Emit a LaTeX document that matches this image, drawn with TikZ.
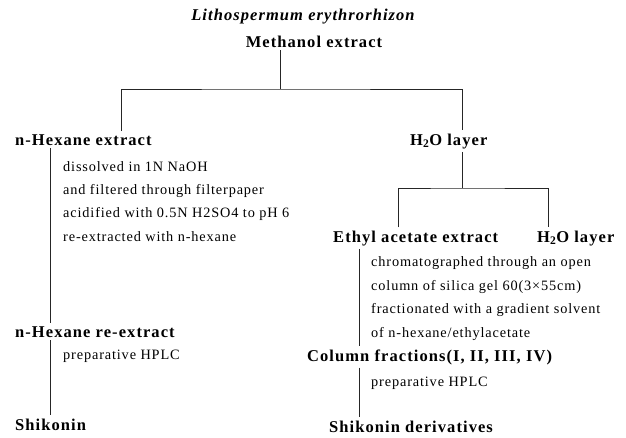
\documentclass[tikz,border=0pt]{standalone}
\usepackage{fontspec}
\setmainfont{Liberation Serif}
\newfontfamily\labelfont[LetterSpace=6.5]{Liberation Serif}
\newfontfamily\notefont[LetterSpace=6]{Liberation Serif}
\usetikzlibrary{positioning}
\tikzset{prod/.style = {anchor = base west, inner xsep = 0, inner ysep = 3pt,
                        font = \labelfont\bfseries\fontsize{16.5}{18}\selectfont}}
\tikzset{proc/.style = {anchor = base west, inner sep = 0,
                        font = \notefont\fontsize{14.3}{16}\selectfont}}
\tikzset{link/.style = {line width = 0.8pt, black!85}}

\begin{document}
\begin{tikzpicture}[x = 1pt, y = -1pt]
    \useasboundingbox (0, 0) rectangle (626, 437);

    \node [prod, anchor = base, font = \labelfont\bfseries\itshape\fontsize{16.5}{18}\selectfont] (plant) at (303, 20) {Lithospermum erythrorhizon};
    \node [prod, anchor = base] (meth) at (314, 47) {Methanol extract};

    \node [prod] (hex) at (15, 145) {n-Hexane extract};
    \node [prod] (water) at (410, 145) {H\textsubscript{2}O layer};
    \node [prod] (ethyl) at (333, 242) {Ethyl acetate extract};
    \node [prod] (waterb) at (537, 242) {H\textsubscript{2}O layer};
    \node [prod] (rehex) at (15, 337) {n-Hexane re-extract};
    \node [prod] (column) at (307, 361) {Column fractions(I, II, III, IV)};
    \node [prod] (shik) at (15, 430) {Shikonin};
    \node [prod] (shikder) at (329, 432) {Shikonin derivatives};

    % left branch
    \node [proc] (dissolve) at (63, 171) {dissolved in 1N NaOH};
    \node [proc] (filter) at (63, 194) {and filtered through filterpaper};
    \node [proc] (acidify) at (63, 217) {acidified with 0.5N H2SO4 to pH 6};
    \node [proc] (reextract) at (63, 241) {re-extracted with n-hexane};
    \node [proc] (hplca) at (63, 359) {preparative HPLC};

    % right branch
    \node [proc] (chrom) at (371, 266) {chromatographed through an open};
    \node [proc] (silica) at (371, 290) {column of silica gel 60(3×55cm)};
    \node [proc] (fract) at (371, 313) {fractionated with a gradient solvent};
    \node [proc] (solvent) at (371, 337) {of n-hexane/ethylacetate};
    \node [proc] (hplcb) at (371, 386) {preparative HPLC};

    \coordinate (split) at (280, 89);
    \coordinate (hexdrop) at (121, 0);
    \coordinate (waterdrop) at (462, 0);
    \coordinate (splitb) at (462, 188);
    \coordinate (ethyldrop) at (398, 0);
    \coordinate (waterbdrop) at (548, 0);
    \coordinate (lstem) at (50, 0);
    \coordinate (rstem) at (359, 0);

    \draw [link] (meth.south -| split) -- (split);
    \draw [link] (hex.north -| hexdrop) |- (split) -| (water.north -| waterdrop);
    \draw [link] (water.south -| waterdrop) -- (splitb);
    \draw [link] (ethyl.north -| ethyldrop) |- (splitb) -| (waterb.north -| waterbdrop);

    \draw [link] (hex.south -| lstem) -- (rehex.north -| lstem);
    \draw [link] (rehex.south -| lstem) -- (shik.north -| lstem);
    \draw [link] (ethyl.south -| rstem) -- (column.north -| rstem);
    \draw [link] (column.south -| rstem) -- (shikder.north -| rstem);
  \end{tikzpicture}
\end{document}
